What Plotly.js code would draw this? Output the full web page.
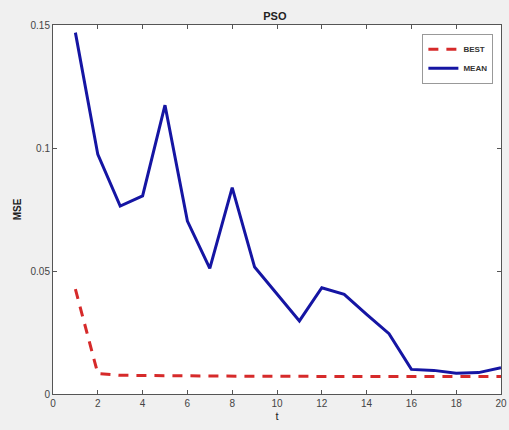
<!DOCTYPE html>
<html>
<head>
<meta charset="utf-8">
<script src="https://cdn.plot.ly/plotly-3.0.1.min.js"></script>
<style>html,body{margin:0;padding:0;background:#f0f0f0;}#chart{width:509px;height:430px;}</style>
</head>
<body>
<div id="chart"></div>
<script>
const t = [1,2,3,4,5,6,7,8,9,10,11,12,13,14,15,16,17,18,19,20];
const best = [0.0426,0.0083,0.0076,0.0075,0.0075,0.0074,0.0073,0.0072,0.0072,0.0072,0.0071,0.0071,0.0071,0.0071,0.0071,0.0071,0.0071,0.0071,0.0071,0.0071];
const mean = [0.1469,0.0974,0.0764,0.0805,0.1174,0.0703,0.0511,0.0839,0.0516,0.0407,0.0297,0.0432,0.0405,0.0324,0.0245,0.0100,0.0096,0.0084,0.0087,0.0107];
const xTicks = [0,2,4,6,8,10,12,14,16,18,20];
const yTicks = [0,0.05,0.1,0.15];
const yTickText = ['0','0.05','0.1','0.15'];

const traces = [
  {x: t, y: best, name: 'BEST', mode: 'lines', line: {color: '#d62a2a', width: 3, dash: '10px,8px'}},
  {x: t, y: mean, name: 'MEAN', mode: 'lines', line: {color: '#1515a3', width: 3}}
];
const axisCommon = {
  showgrid: false, zeroline: false, showline: true, mirror: 'ticks',
  linecolor: '#555', linewidth: 1, ticks: 'inside', ticklen: 4, tickcolor: '#555',
  tickfont: {family: 'Liberation Sans, Arial, sans-serif', size: 10, color: '#444'}
};
const layout = {
  width: 509, height: 430,
  paper_bgcolor: '#f0f0f0', plot_bgcolor: '#ffffff',
  margin: {l: 53, r: 8, t: 25, b: 36},
  title: {text: '<b>PSO</b>', font: {family: 'Liberation Sans, Arial, sans-serif', size: 11, color: '#222'}, x: 0.54, xanchor: 'center', y: 0.963, yanchor: 'middle'},
  xaxis: Object.assign({}, axisCommon, {range: [0, 20], tickvals: xTicks, ticktext: xTicks.map(String),
    title: {text: 't', font: {family: 'Liberation Sans, Arial, sans-serif', size: 11, color: '#222'}, standoff: 4}}),
  yaxis: Object.assign({}, axisCommon, {range: [0, 0.15], tickvals: yTicks, ticktext: yTickText,
    title: {text: '<b>MSE</b>', font: {family: 'Liberation Sans, Arial, sans-serif', size: 10, color: '#222'}, standoff: 7}}),
  showlegend: true,
  legend: {x: 0.983, y: 0.976, xanchor: 'right', yanchor: 'top', bgcolor: '#ffffff', bordercolor: '#999', borderwidth: 1,
    font: {family: 'Liberation Sans, Arial, sans-serif', size: 8, color: '#333', weight: 'bold'}, tracegroupgap: 0, itemwidth: 30}
};
Plotly.newPlot('chart', traces, layout, {displayModeBar: false, staticPlot: true});
</script>
</body>
</html>
